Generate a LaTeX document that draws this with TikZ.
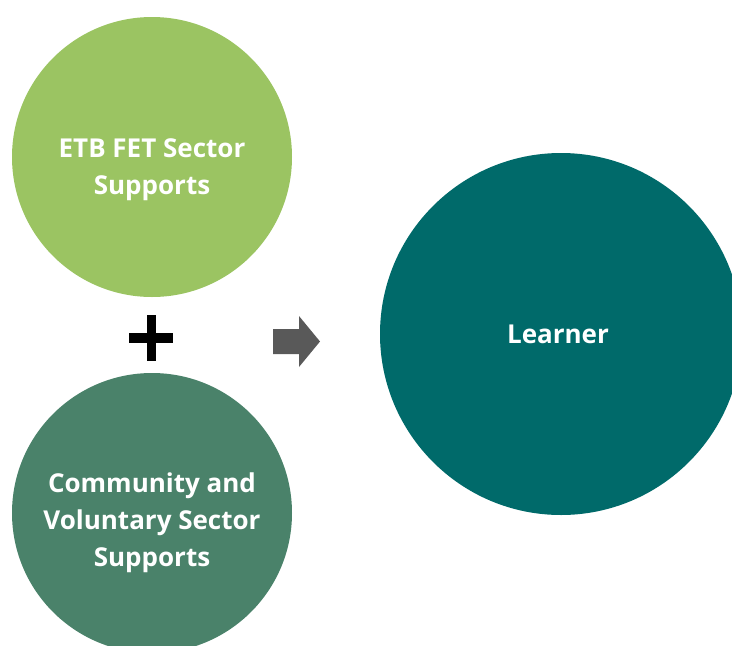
\documentclass[tikz,border=0pt]{standalone}
\usepackage{fontspec}
\setmainfont{Open Sans}[BoldFont={Open Sans Bold}]
\definecolor{lightgreen}{HTML}{9BC462}
\definecolor{midgreen}{HTML}{4A826A}
\definecolor{tealc}{HTML}{006A6A}
\definecolor{arrowgray}{HTML}{595959}
\tikzset{
  bubble/.style={circle, inner sep=0pt, draw=none},
  bubbletext/.style={text=white, font=\bfseries\fontsize{26}{37}\selectfont, align=center, inner sep=0pt},
}
\begin{document}
\begin{tikzpicture}[x=1pt,y=-1pt]
\useasboundingbox (0,0) rectangle (732,646);
\clip (0,0) rectangle (732,646);
\node[bubble, fill=lightgreen, minimum size=280pt] (etb) at (152,157) {};
\node[bubble, fill=midgreen, minimum size=280pt] (cvs) at (152,513) {};
\node[bubble, fill=tealc, minimum size=362pt] (learner) at (561,334) {};
\node[bubbletext, anchor=base] (etbt) at (152,194) {ETB FET Sector\\Supports};
\node[bubbletext, anchor=base] (cvst) at (152,566) {Community and\\Voluntary Sector\\Supports};
\node[bubbletext, anchor=base] (lt) at (558,343) {Learner};
% plus sign
\node[fill=black, minimum width=44pt, minimum height=10pt, inner sep=0pt] (plush) at (151,338) {};
\node[fill=black, minimum width=9pt, minimum height=46pt, inner sep=0pt] (plusv) at (151,338) {};
% block arrow
\fill[arrowgray] (273,329) -- (299,329) -- (299,316) -- (320,341.5) -- (299,367) -- (299,354) -- (273,354) -- cycle;
\end{tikzpicture}
\end{document}
